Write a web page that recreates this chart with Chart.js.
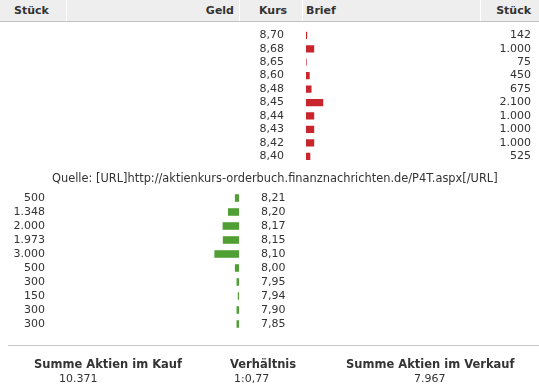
<!DOCTYPE html>
<html>
<head>
<meta charset="utf-8">
<script src="https://cdn.jsdelivr.net/npm/chart.js@4"></script>
<style>
  html, body { margin: 0; padding: 0; background: #fff; }
  #wrap { position: relative; width: 539px; height: 391px; overflow: hidden;
          font-family: "DejaVu Sans", Verdana, sans-serif; color: #333; }
  #wrap canvas { position: absolute; left: 0; top: 0; }
  .hd { position: absolute; top: 0; left: 0; width: 539px; height: 21px; background: #eeeeee;
        border-bottom: 1px solid #c2c2c2; }
  .sep { position: absolute; top: 0; width: 1px; height: 21px; background: #fff; }
  .t { position: absolute; white-space: nowrap; }
  .b { font-weight: bold; font-size: 11px; line-height: 14px; }
  .src { font-size: 11.4px; line-height: 14px; }
  .sum { font-weight: bold; font-size: 11.5px; line-height: 14px; }
  .val { font-size: 11px; line-height: 14px; }
  .line { position: absolute; left: 8px; right: 0; top: 345px; height: 1px; background: #c8c8c8; }
</style>
</head>
<body>
<div id="wrap">
  <div class="hd">
    <div class="sep" style="left:66px"></div>
    <div class="sep" style="left:239px"></div>
    <div class="sep" style="left:302px"></div>
    <div class="sep" style="left:480px"></div>
  </div>
  <div class="t b" style="left:14px;top:4px">Stück</div>
  <div class="t b" style="right:305px;top:4px">Geld</div>
  <div class="t b" style="left:259px;top:4px">Kurs</div>
  <div class="t b" style="left:306px;top:4px">Brief</div>
  <div class="t b" style="right:8px;top:4px">Stück</div>

  <canvas id="ask" width="539" height="391"></canvas>
  <canvas id="bid" width="539" height="391"></canvas>

  <div class="t src" style="left:52px;top:171px">Quelle: [URL]http://aktienkurs-orderbuch.finanznachrichten.de/P4T.aspx[/URL]</div>

  <div class="line"></div>
  <div class="t sum" style="left:34px;top:357px">Summe Aktien im Kauf</div>
  <div class="t sum" style="left:230px;top:357px">Verhältnis</div>
  <div class="t sum" style="left:346px;top:357px">Summe Aktien im Verkauf</div>
  <div class="t val" id="sumKauf" style="left:59px;top:372px"></div>
  <div class="t val" id="ratio" style="left:234px;top:372px"></div>
  <div class="t val" id="sumVerkauf" style="left:414px;top:372px"></div>
</div>

<script>
// Brief (Verkauf)
const briefKurs   = ['8,70', '8,68', '8,65', '8,60', '8,48', '8,45', '8,44', '8,43', '8,42', '8,40'];
const briefStueck = [142, 1000, 75, 450, 675, 2100, 1000, 1000, 1000, 525];

// Geld (Kauf)
const geldKurs   = ['8,21', '8,20', '8,17', '8,15', '8,10', '8,00', '7,95', '7,94', '7,90', '7,85'];
const geldStueck = [500, 1348, 2000, 1973, 3000, 500, 300, 150, 300, 300];

const fmt = n => String(n).replace(/\B(?=(\d{3})+(?!\d))/g, '.');
const tickFont = { family: 'DejaVu Sans', size: 11 };
const noGrid = { display: false, drawTicks: false };

// summen
const sumGeld  = geldStueck.reduce((a, b) => a + b, 0);
const sumBrief = briefStueck.reduce((a, b) => a + b, 0);
document.getElementById('sumKauf').textContent = fmt(sumGeld);
document.getElementById('sumVerkauf').textContent = fmt(sumBrief);
document.getElementById('ratio').textContent = '1:' + (sumBrief / sumGeld).toFixed(2).replace('.', ',');

function catAxis(position, labels, width, padding, crossAlign) {
  return {
    type: 'category', position, labels, offset: true,
    grid: noGrid, border: { display: false },
    ticks: { font: tickFont, color: '#333', padding, crossAlign, autoSkip: false },
    afterFit: s => { s.width = width; }
  };
}

// Brief: balken nach rechts ab Spalte "Brief"
new Chart(document.getElementById('ask'), {
  type: 'bar',
  data: {
    labels: briefKurs,
    datasets: [{ data: briefStueck, backgroundColor: '#c9252c', yAxisID: 'y',
                 categoryPercentage: 1, barPercentage: 0.54 }]
  },
  options: {
    indexAxis: 'y', responsive: false, animation: false,
    layout: { padding: { left: 250, right: 8, top: 23, bottom: 228 } },
    plugins: { legend: { display: false }, tooltip: { enabled: false } },
    scales: {
      x: { type: 'linear', min: 0, max: 20000, display: false },
      y: catAxis('left', briefKurs, 56, 22, 'near'),
      yStk: catAxis('right', briefStueck.map(fmt), 61, 0, 'far')
    }
  }
});

// Geld: balken nach links bis Spalte "Kurs"
new Chart(document.getElementById('bid'), {
  type: 'bar',
  data: {
    labels: geldKurs,
    datasets: [{ data: geldStueck, backgroundColor: '#4f9f35', yAxisID: 'y',
                 categoryPercentage: 1, barPercentage: 0.54 }]
  },
  options: {
    indexAxis: 'y', responsive: false, animation: false,
    layout: { padding: { left: 0, right: 250, top: 191, bottom: 60 } },
    plugins: { legend: { display: false }, tooltip: { enabled: false } },
    scales: {
      x: { type: 'linear', min: 0, max: 20000, reverse: true, display: false },
      y: catAxis('right', geldKurs, 50, 22, 'near'),
      yStk: catAxis('left', geldStueck.map(fmt), 75, 30, 'near')
    }
  }
});
</script>
</body>
</html>
